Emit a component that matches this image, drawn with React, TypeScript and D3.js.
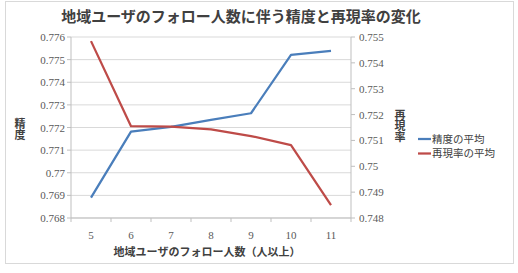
import React from "react";
import * as d3 from "d3";

const categories = ["5", "6", "7", "8", "9", "10", "11"];
const precision = [0.7689, 0.77182, 0.77203, 0.77234, 0.77263, 0.77521, 0.77539];
const recall = [0.75484, 0.75155, 0.75153, 0.75143, 0.75117, 0.75082, 0.7485];
const leftTicks = [0.768, 0.769, 0.77, 0.771, 0.772, 0.773, 0.774, 0.775, 0.776];
const rightTicks = [0.748, 0.749, 0.75, 0.751, 0.752, 0.753, 0.754, 0.755];
const title = "地域ユーザのフォロー人数に伴う精度と再現率の変化";
const xTitle = "地域ユーザのフォロー人数（人以上）";
const yLeftTitle = "精度";
const yRightTitle = "再現率";
const seriesNames = ["精度の平均", "再現率の平均"];
const colors = ["#4a7ebb", "#be4b48"];

const W = 518, H = 273;
const plot = { l: 71, r: 351, t: 37, b: 218 };

export default function App() {
  const x = d3.scaleBand<string>().domain(categories).range([plot.l, plot.r]);
  const yL = d3.scaleLinear().domain([0.768, 0.776]).range([plot.b, plot.t]);
  const yR = d3.scaleLinear().domain([0.748, 0.755]).range([plot.b, plot.t]);
  const cx = (c: string) => (x(c) as number) + x.bandwidth() / 2;
  const lineL = d3.line<number>().x((_, i) => cx(categories[i])).y((d) => yL(d));
  const lineR = d3.line<number>().x((_, i) => cx(categories[i])).y((d) => yR(d));
  const serif = "'Liberation Serif', 'DejaVu Serif', 'Times New Roman', serif";
  const sans = "'Noto Sans CJK JP', sans-serif";
  const fmt = (v: number) => String(+v.toFixed(3));
  const boundaries = [...categories.map((c) => x(c) as number), plot.r];

  return (
    <svg width={W} height={H} style={{ position: "absolute", left: 0, top: 0 }}>
      <rect x={0} y={0} width={W} height={H} fill="#fff" />
      <rect x={5.5} y={1.5} width={508} height={262} fill="#fff" stroke="#d9d9d9" strokeWidth={1} />
      <text x={241} y={22} textAnchor="middle" fontFamily={sans} fontSize={15} fontWeight={700} fill="#404040">
        {title}
      </text>
      {leftTicks.map((t) => (
        <line key={"g" + t} x1={plot.l} x2={plot.r} y1={yL(t)} y2={yL(t)} stroke="#d9d9d9" strokeWidth={1} />
      ))}
      <line x1={plot.l} x2={plot.l} y1={plot.t} y2={plot.b} stroke="#bfbfbf" />
      <line x1={plot.r} x2={plot.r} y1={plot.t} y2={plot.b} stroke="#bfbfbf" />
      <line x1={plot.l} x2={plot.r} y1={plot.b} y2={plot.b} stroke="#bfbfbf" />
      {leftTicks.map((t) => (
        <g key={"l" + t}>
          <line x1={plot.l - 4} x2={plot.l} y1={yL(t)} y2={yL(t)} stroke="#bfbfbf" />
          <text x={plot.l - 6} y={yL(t) + 4} textAnchor="end" fontFamily={serif} fontSize={11} fill="#595959">
            {fmt(t)}
          </text>
        </g>
      ))}
      {rightTicks.map((t) => (
        <g key={"r" + t}>
          <line x1={plot.r} x2={plot.r + 4} y1={yR(t)} y2={yR(t)} stroke="#bfbfbf" />
          <text x={plot.r + 8} y={yR(t) + 4} textAnchor="start" fontFamily={serif} fontSize={11} fill="#595959">
            {fmt(t)}
          </text>
        </g>
      ))}
      {boundaries.map((b, i) => (
        <line key={"b" + i} x1={b} x2={b} y1={plot.b} y2={plot.b + 4} stroke="#bfbfbf" />
      ))}
      {categories.map((c) => (
        <text key={"c" + c} x={cx(c)} y={239} textAnchor="middle" fontFamily={serif} fontSize={11} fill="#595959">
          {c}
        </text>
      ))}
      <text x={207} y={256} textAnchor="middle" fontFamily={sans} fontSize={11} fontWeight={700} fill="#404040">
        {xTitle}
      </text>
      <text x={20} y={118} fontFamily={sans} fontSize={11} fontWeight={700} fill="#404040"
        style={{ writingMode: "vertical-rl", textOrientation: "upright" } as any}>
        {yLeftTitle}
      </text>
      <text x={400} y={109} fontFamily={sans} fontSize={11} fontWeight={700} fill="#404040"
        style={{ writingMode: "vertical-rl", textOrientation: "upright" } as any}>
        {yRightTitle}
      </text>
      <path d={lineL(precision) || ""} fill="none" stroke={colors[0]} strokeWidth={2.25} strokeLinejoin="round" />
      <path d={lineR(recall) || ""} fill="none" stroke={colors[1]} strokeWidth={2.25} strokeLinejoin="round" />
      {seriesNames.map((n, i) => (
        <g key={n}>
          <line x1={418} x2={431} y1={139 + i * 14.5} y2={139 + i * 14.5} stroke={colors[i]} strokeWidth={2.25} />
          <text x={432} y={142.5 + i * 14.5} fontFamily={sans} fontSize={10.5} fill="#404040">
            {n}
          </text>
        </g>
      ))}
    </svg>
  );
}
